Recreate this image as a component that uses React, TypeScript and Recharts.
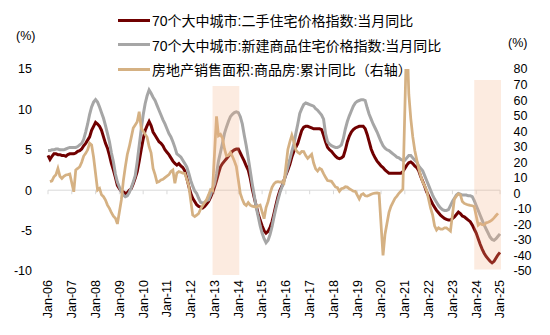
import React from "react";
import {
  LineChart,
  Line,
  XAxis,
  YAxis,
  ReferenceLine,
  ReferenceArea,
} from "recharts";

// 二手住宅 70城 当月同比 (%), Jan-06 .. Jan-25
const red2006 = [4.3, 3.8, 4.2, 4.5, 4.5, 4.4, 4.4, 4.3, 4.3, 4.2, 4.4, 4.5];
const red2007 = [4.5, 4.5, 4.6, 4.8, 4.9, 5.1, 5.5, 5.8, 6.2, 6.6, 7.4, 7.9];
const red2008 = [8.4, 8.2, 7.9, 7.4, 6.6, 5.8, 5.2, 4.3, 3.3, 2.5, 1.6, 0.6];
const red2009 = [0.2, -0.1, -0.2, -0.4, -0.3, 0.0, 0.2, 0.8, 1.5, 2.3, 3.6, 5.0];
const red2010 = [6.3, 7.4, 8.0, 8.5, 8.0, 7.2, 6.8, 6.4, 6.0, 5.8, 5.5, 5.0];
const red2011 = [4.7, 4.4, 4.0, 3.6, 3.3, 3.1, 3.3, 3.0, 2.8, 2.4, 1.5, 0.5];
const red2012 = [-0.4, -1.0, -1.4, -1.8, -2.0, -2.1, -2.2, -2.0, -1.7, -1.4, -0.9, -0.3];
const red2013 = [0.4, 1.2, 2.1, 2.9, 3.3, 3.6, 3.9, 4.2, 4.5, 4.8, 5.0, 5.1];
const red2014 = [5.1, 4.6, 4.1, 3.6, 3.0, 2.5, 1.5, 0.2, -0.9, -1.9, -2.9, -3.7];
const red2015 = [-4.4, -5.0, -5.3, -5.1, -4.6, -3.9, -2.9, -1.8, -0.8, 0.0, 0.5, 1.2];
const red2016 = [1.9, 2.5, 3.2, 4.1, 4.8, 5.3, 5.8, 6.6, 7.4, 7.8, 7.9, 7.9];
const red2017 = [7.8, 7.7, 7.6, 7.6, 7.6, 7.6, 7.5, 6.8, 6.0, 5.3, 5.0, 4.8];
const red2018 = [4.5, 4.2, 4.0, 3.9, 4.0, 4.2, 5.0, 6.0, 6.7, 7.2, 7.5, 7.7];
const red2019 = [7.8, 7.9, 7.9, 7.9, 7.6, 6.9, 6.0, 5.1, 4.5, 4.0, 3.6, 3.3];
const red2020 = [3.0, 2.8, 2.5, 2.3, 2.1, 2.1, 2.1, 2.1, 2.1, 2.1, 2.1, 2.3];
const red2021 = [2.7, 3.1, 3.4, 3.5, 3.3, 3.0, 2.8, 2.4, 1.7, 1.1, 0.5, -0.2];
const red2022 = [-0.7, -1.2, -1.7, -2.1, -2.5, -2.8, -3.1, -3.3, -3.5, -3.6, -3.7, -3.7];
const red2023 = [-3.5, -3.3, -3.0, -2.7, -2.9, -3.2, -3.3, -3.5, -3.7, -3.9, -4.3, -4.8];
const red2024 = [-5.3, -6.0, -6.7, -7.3, -7.8, -8.2, -8.5, -8.8, -9.0, -8.8, -8.4, -8.0];
const red2025 = [-7.7];

// 新建商品住宅 70城 当月同比 (%)
const gray2006 = [4.9, 4.9, 5.0, 5.0, 5.1, 5.1, 5.0, 5.0, 5.0, 5.1, 5.2, 5.3];
const gray2007 = [5.3, 5.3, 5.3, 5.4, 5.6, 5.8, 6.3, 7.2, 8.2, 9.4, 10.3, 10.9];
const gray2008 = [11.2, 10.9, 10.3, 9.6, 8.9, 8.0, 7.0, 6.0, 4.6, 3.5, 2.0, 1.0];
const gray2009 = [0.4, -0.2, -0.6, -0.8, -0.7, -0.3, 0.3, 1.0, 1.8, 3.5, 5.5, 7.5];
const gray2010 = [9.3, 10.7, 11.7, 12.4, 12.0, 11.5, 11.1, 10.5, 9.9, 9.3, 8.7, 8.2];
const gray2011 = [7.6, 7.0, 6.6, 6.0, 5.3, 4.5, 4.3, 4.1, 3.7, 3.3, 2.9, 2.1];
const gray2012 = [1.2, 0.5, -0.1, -0.4, -1.0, -1.5, -1.6, -1.5, -1.3, -1.2, -0.6, 0.2];
const gray2013 = [0.8, 2.0, 3.6, 4.7, 5.8, 7.0, 7.8, 8.5, 9.1, 9.4, 9.6, 9.7];
const gray2014 = [9.6, 9.1, 8.2, 6.8, 5.5, 4.0, 2.4, 0.8, -0.6, -2.1, -3.2, -4.4];
const gray2015 = [-5.3, -6.0, -6.5, -6.2, -5.5, -4.5, -3.3, -2.2, -1.2, -0.3, 0.4, 1.1];
const gray2016 = [2.0, 2.9, 3.8, 4.8, 5.7, 7.0, 8.2, 9.5, 10.1, 10.6, 10.8, 10.7];
const gray2017 = [10.6, 10.5, 10.4, 10.1, 9.9, 9.6, 9.3, 8.8, 7.0, 6.0, 5.7, 5.5];
const gray2018 = [5.4, 5.3, 5.3, 5.4, 5.6, 6.4, 7.6, 8.5, 9.2, 9.8, 10.4, 10.8];
const gray2019 = [11.0, 11.1, 11.2, 11.2, 11.1, 10.2, 9.4, 8.8, 8.2, 7.7, 7.2, 6.6];
const gray2020 = [6.0, 5.5, 5.2, 5.0, 4.9, 4.7, 4.5, 4.3, 4.1, 4.0, 3.8, 3.7];
const gray2021 = [3.7, 4.0, 4.3, 4.3, 4.0, 3.7, 3.5, 3.0, 2.7, 2.4, 1.8, 1.2];
const gray2022 = [0.6, 0.0, -0.6, -1.1, -1.5, -1.9, -2.2, -2.4, -2.5, -2.5, -2.4, -1.9];
const gray2023 = [-1.4, -1.0, -0.6, -0.4, -0.5, -0.6, -0.6, -0.6, -0.7, -0.7, -0.8, -1.3];
const gray2024 = [-1.9, -2.5, -3.1, -3.7, -4.3, -4.8, -5.3, -5.8, -6.1, -6.2, -6.0, -5.7];
const gray2025 = [-5.4];

// 商品房销售面积 累计同比 (%, 右轴), Jan has no release
const gold2006 = [null, 7.5, 8.0, 10.7, 12.0, 16.0, 11.0, 9.6, 11.0, 11.8, 12.0, 12.4];
const gold2007 = [null, 1.0, 15.0, 16.0, 17.1, 20.0, 24.0, 25.7, 28.0, 32.2, 31.1, 23.2];
const gold2008 = [null, 2.1, 3.2, -1.0, -2.2, -4.3, -7.6, -9.7, -12.5, -14.7, -16.0, -19.7];
const gold2009 = [null, -4.3, 8.0, 17.0, 25.0, 30.0, 36.0, 42.0, 44.0, 46.0, 52.5, 42.0];
const gold2010 = [null, 38.0, 36.0, 30.0, 26.0, 16.0, 12.0, 7.0, 7.5, 8.6, 9.0, 10.1];
const gold2011 = [null, 12.0, 14.0, 15.0, 6.5, 13.0, 14.0, 13.5, 13.0, 12.9, 9.0, 4.9];
const gold2012 = [null, -14.0, -15.0, -14.0, -13.0, -10.0, -8.0, -6.0, -4.0, -1.0, 2.4, 1.8];
const gold2013 = [null, 49.5, 37.1, 38.0, 35.6, 28.7, 24.1, 24.4, 26.3, 23.8, 20.8, 17.3];
const gold2014 = [null, -0.1, -3.8, -6.8, -7.8, -6.0, -7.6, -8.3, -8.6, -8.9, -8.2, -7.6];
const gold2015 = [null, -16.3, -9.2, -5.4, -0.2, 3.9, 6.1, 7.2, 7.5, 7.2, 7.4, 6.5];
const gold2016 = [null, 28.2, 33.1, 37.4, 33.2, 27.9, 26.4, 25.5, 26.9, 26.8, 24.3, 22.5];
const gold2017 = [null, 25.1, 19.5, 15.7, 14.3, 16.1, 15.3, 12.7, 10.3, 8.2, 8.0, 7.7];
const gold2018 = [null, 4.1, 3.6, 1.3, 2.9, 3.3, 4.2, 4.0, 2.9, 2.2, 1.4, 1.3];
const gold2019 = [null, -3.6, -0.9, -0.3, -1.6, -1.8, -1.3, -0.6, -0.1, 0.1, 0.2, -0.1];
const gold2020 = [null, -39.9, -26.3, -19.3, -12.3, -8.4, -5.8, -3.3, -1.8, 0.0, 1.3, 2.6];
const gold2021 = [null, 104.9, 63.8, 48.1, 36.3, 27.7, 21.5, 15.9, 11.3, 7.3, 4.8, 1.9];
const gold2022 = [null, -9.6, -13.8, -20.9, -23.6, -22.2, -23.1, -23.0, -22.2, -22.3, -23.3, -24.3];
const gold2023 = [null, -3.6, -1.8, -0.4, -0.9, -5.3, -6.5, -7.1, -7.5, -7.8, -8.0, -8.5];
const gold2024 = [null, -20.5, -19.4, -20.2, -20.3, -19.0, -18.6, -18.0, -17.1, -15.8, -14.3, -12.9];
const gold2025 = [null];

const years = [
  "06", "07", "08", "09", "10", "11", "12", "13", "14", "15",
  "16", "17", "18", "19", "20", "21", "22", "23", "24", "25",
];
const monthNames = ["Jan", "Feb", "Mar", "Apr", "May", "Jun", "Jul", "Aug", "Sep", "Oct", "Nov", "Dec"];

const redSeries = [
  red2006, red2007, red2008, red2009, red2010, red2011, red2012, red2013, red2014, red2015,
  red2016, red2017, red2018, red2019, red2020, red2021, red2022, red2023, red2024, red2025,
].flat();
const graySeries = [
  gray2006, gray2007, gray2008, gray2009, gray2010, gray2011, gray2012, gray2013, gray2014, gray2015,
  gray2016, gray2017, gray2018, gray2019, gray2020, gray2021, gray2022, gray2023, gray2024, gray2025,
].flat();
const goldSeries = [
  gold2006, gold2007, gold2008, gold2009, gold2010, gold2011, gold2012, gold2013, gold2014, gold2015,
  gold2016, gold2017, gold2018, gold2019, gold2020, gold2021, gold2022, gold2023, gold2024, gold2025,
].flat();

// shaded periods, in month index from Jan-06
const shadeStart = [83, 215];
const shadeEnd = [96.5, 228.5];
const shadeTop = [69, 73];
const shadeBottom = [-52.6, -49];

const leftTicks = [-10, -5, 0, 5, 10, 15];
const rightTicks = [-50, -40, -30, -20, -10, 0, 10, 20, 30, 40, 50, 60, 70, 80];
const yearTicks = years.map((_, i) => i * 12);

const labels = redSeries.map((_, i) => `${monthNames[i % 12]}-${years[Math.floor(i / 12)]}`);
const data = redSeries.map((v, i) => ({
  m: i,
  label: labels[i],
  red: v,
  gray: graySeries[i],
  gold: goldSeries[i],
}));

const RED = "#700000";
const GRAY = "#A6A6A6";
const GOLD = "#D5B183";
const FONT = "'Liberation Sans', 'Noto Sans CJK SC', sans-serif";

const legendItems = [
  { name: "70个大中城市:二手住宅价格指数:当月同比", color: RED },
  { name: "70个大中城市:新建商品住宅价格指数:当月同比", color: GRAY },
  { name: "房地产销售面积:商品房:累计同比（右轴）", color: GOLD },
];

const XTick = (props: any) => {
  const { x, y, payload } = props;
  return (
    <text
      x={x}
      y={y}
      dy="0.35em"
      textAnchor="end"
      transform={`rotate(-90, ${x}, ${y})`}
      fontSize={12.5}
      fill="#000"
      fontFamily={FONT}
    >
      {labels[payload.value]}
    </text>
  );
};

export default function App() {
  return (
    <div
      style={{
        position: "absolute",
        left: 0,
        top: 0,
        width: 550,
        height: 335,
        background: "#fff",
        fontFamily: FONT,
      }}
    >
      <LineChart
        width={550}
        height={335}
        data={data}
        margin={{ top: 69, right: 0, bottom: 0, left: 0 }}
      >
        <XAxis
          dataKey="m"
          type="number"
          domain={[0, 228]}
          ticks={yearTicks}
          interval={0}
          tick={<XTick />}
          tickLine={false}
          axisLine={false}
          tickSize={0}
          tickMargin={9}
          height={64}
        />
        <YAxis
          yAxisId="left"
          domain={[-10, 15]}
          ticks={leftTicks}
          interval={0}
          axisLine={false}
          tickLine={false}
          tickSize={0}
          tickMargin={16}
          width={48}
          tick={{ fontSize: 12.5, fill: "#000", fontFamily: FONT }}
        />
        <YAxis
          yAxisId="right"
          orientation="right"
          domain={[-50, 80]}
          ticks={rightTicks}
          interval={0}
          allowDataOverflow
          axisLine={false}
          tickLine={false}
          tickSize={0}
          tickMargin={13.5}
          width={50}
          tick={{ fontSize: 12.5, fill: "#000", fontFamily: FONT, textAnchor: "start" }}
        />
        <ReferenceLine yAxisId="left" y={0} stroke="#D9D9D9" strokeWidth={1} />
        {yearTicks.map((t) => (
          <ReferenceLine
            key={t}
            yAxisId="left"
            segment={[
              { x: t, y: 0 },
              { x: t, y: -0.5 },
            ]}
            stroke="#D9D9D9"
            strokeWidth={1}
          />
        ))}
        <Line
          yAxisId="left"
          dataKey="red"
          stroke={RED}
          strokeWidth={3}
          dot={false}
          type="linear"
          isAnimationActive={false}
        />
        <Line
          yAxisId="left"
          dataKey="gray"
          stroke={GRAY}
          strokeWidth={3}
          dot={false}
          type="linear"
          isAnimationActive={false}
        />
        <Line
          yAxisId="right"
          dataKey="gold"
          stroke={GOLD}
          strokeWidth={2.75}
          dot={false}
          type="linear"
          connectNulls
          isAnimationActive={false}
        />
        {shadeStart.map((s, i) => (
          <ReferenceArea
            key={s}
            yAxisId="right"
            x1={s}
            x2={shadeEnd[i]}
            y1={shadeBottom[i]}
            y2={shadeTop[i]}
            fill="#F4B183"
            fillOpacity={0.25}
            stroke="none"
            ifOverflow="visible"
            zIndex={450}
          />
        ))}
      </LineChart>

      <div style={{ position: "absolute", left: 16, top: 29, fontSize: 12.5 }}>(%)</div>
      <div style={{ position: "absolute", left: 508, top: 36, fontSize: 12.5 }}>(%)</div>

      <div style={{ position: "absolute", left: 118, top: 8 }}>
        {legendItems.map((it) => (
          <div
            key={it.name}
            style={{ display: "flex", alignItems: "center", height: 24.5, fontSize: 14 }}
          >
            <span
              style={{
                display: "inline-block",
                width: 32,
                height: 3,
                background: it.color,
                marginRight: 2,
              }}
            />
            <span style={{ whiteSpace: "nowrap" }}>{it.name}</span>
          </div>
        ))}
      </div>
    </div>
  );
}
